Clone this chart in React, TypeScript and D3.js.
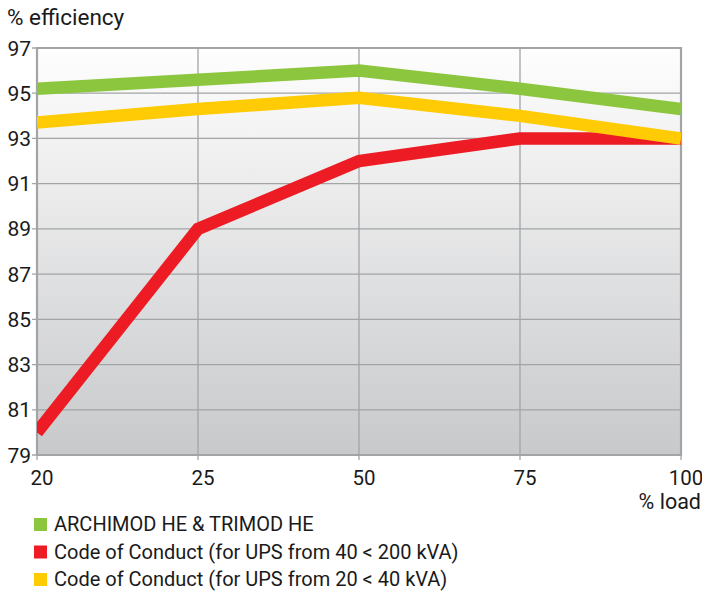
import React, { useEffect, useRef } from "react";
import * as d3 from "d3";

const loads = ["20", "25", "50", "75", "100"];
const yTicks = [79, 81, 83, 85, 87, 89, 91, 93, 95, 97];
const archimod = [95.2, 95.6, 96.0, 95.2, 94.3];
const codeLarge = [80.0, 89.0, 92.0, 93.0, 93.0];
const codeSmall = [93.7, 94.3, 94.8, 94.0, 93.0];
const seriesNames = [
  "ARCHIMOD HE & TRIMOD HE",
  "Code of Conduct (for UPS from 40 < 200 kVA)",
  "Code of Conduct (for UPS from 20 < 40 kVA)",
];
const seriesColors = ["#8cc63f", "#ed1c24", "#ffcb05"];

const W = 702, H = 591;
const L = 37, R = 681, T = 48, B = 455;
const FONT = "Roboto, 'DejaVu Sans', sans-serif";

export default function App() {
  const ref = useRef<SVGSVGElement>(null);
  useEffect(() => {
    const svg = d3.select(ref.current);
    svg.selectAll("*").remove();
    const x = d3.scalePoint<string>().domain(loads).range([L, R]).padding(0);
    const y = d3.scaleLinear().domain([79, 97]).range([B, T]);

    const defs = svg.append("defs");
    const g = defs.append("linearGradient").attr("id", "bg").attr("x1", 0).attr("y1", 0).attr("x2", 0).attr("y2", 1);
    g.append("stop").attr("offset", "0%").attr("stop-color", "#fefefe");
    g.append("stop").attr("offset", "100%").attr("stop-color", "#c8c9cb");

    svg.append("rect").attr("x", L).attr("y", T).attr("width", R - L).attr("height", B - T).attr("fill", "url(#bg)");

    svg.append("g").selectAll("line").data(yTicks).join("line")
      .attr("x1", L - 5).attr("x2", R).attr("y1", d => y(d)).attr("y2", d => y(d))
      .attr("stroke", "#a3a4a6").attr("stroke-width", 1.3);
    svg.append("g").selectAll("line").data(loads).join("line")
      .attr("x1", d => x(d)!).attr("x2", d => x(d)!).attr("y1", T).attr("y2", B + 5)
      .attr("stroke", "#a3a4a6").attr("stroke-width", 1.3);

    svg.append("path")
      .attr("d", `M${L},${B}V${T}H${R}V${B}H${L}`)
      .attr("fill", "none").attr("stroke", "#a3a4a6").attr("stroke-width", 2.2);

    const line = d3.line<number>().x((_, i) => x(loads[i])!).y(d => y(d));
    const order = [1, 2, 0];
    const data = [archimod, codeLarge, codeSmall];
    const clip = defs.append("clipPath").attr("id", "clip");
    clip.append("rect").attr("x", L).attr("y", T).attr("width", R - L).attr("height", B - T);
    const lg = svg.append("g").attr("clip-path", "url(#clip)");
    order.forEach(i => {
      lg.append("path").attr("d", line(data[i])!).attr("fill", "none")
        .attr("stroke", seriesColors[i]).attr("stroke-width", 12.5).attr("stroke-linejoin", "miter");
    });

    svg.append("g").selectAll("text").data(yTicks).join("text")
      .attr("x", 31).attr("y", d => y(d)).attr("dy", "0.36em").attr("text-anchor", "end")
      .attr("font-family", FONT).attr("font-size", 21).attr("fill", "#1a1a1a").text(d => d);
    svg.append("g").selectAll("text").data(loads).join("text")
      .attr("x", d => x(d)! + 5).attr("y", 485).attr("text-anchor", "middle")
      .attr("font-family", FONT).attr("font-size", 20.5).attr("fill", "#1a1a1a").text(d => d);

    svg.append("text").attr("x", 7).attr("y", 25).attr("font-family", FONT).attr("font-size", 22.5)
      .attr("fill", "#1a1a1a").text("% efficiency");
    svg.append("text").attr("x", 701).attr("y", 509).attr("text-anchor", "end").attr("font-family", FONT)
      .attr("font-size", 21.5).attr("fill", "#1a1a1a").text("% load");

    const leg = svg.append("g");
    seriesNames.forEach((n, i) => {
      const cy = 524 + i * 27.5;
      leg.append("rect").attr("x", 34).attr("y", cy - 6).attr("width", 13).attr("height", 13).attr("fill", seriesColors[i]);
      leg.append("text").attr("x", 54).attr("y", cy).attr("dy", "0.36em").attr("font-family", FONT)
        .attr("font-size", 20).attr("fill", "#1a1a1a").text(n);
    });
  }, []);
  return <svg ref={ref} width={W} height={H} style={{ position: "absolute", left: 0, top: 0 }} />;
}
